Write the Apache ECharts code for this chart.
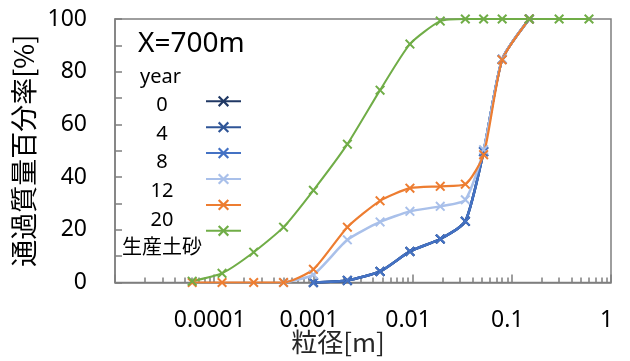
<!DOCTYPE html>
<html>
<head>
<meta charset="utf-8">
<script src="https://cdn.jsdelivr.net/npm/echarts@6/dist/echarts.min.js"></script>
<style>
html,body{margin:0;padding:0;background:#fff;}
#chart{width:630px;height:361px;}
</style>
</head>
<body>
<div id="chart"></div>
<script>
// ---- data ----
const sizes = [0.00006, 0.00012, 0.00025, 0.0005, 0.001, 0.0022, 0.0047, 0.0094, 0.019, 0.034, 0.052, 0.08, 0.15, 0.3, 0.6];
const year0  = [null, null, null, null, 0, 0.8, 4.2, 11.8, 16.5, 23.2, 49.7, 84.7, 100, null, null];
const year4  = [null, null, null, null, 0, 0.8, 4.2, 11.8, 16.5, 23.2, 49.7, 84.7, 100, null, null];
const year8  = [null, null, null, null, 0, 0.8, 4.2, 11.8, 16.5, 23.2, 49.7, 84.7, 100, null, null];
const year12 = [null, null, null, 0, 3, 16.2, 23, 27, 28.9, 31.4, 50.4, 84.8, 100, null, null];
const year20 = [0, 0, 0, 0, 5, 21, 31, 35.8, 36.5, 37.3, 48.5, 84.5, 100, null, null];
const production = [0.5, 3.5, 11.5, 21, 35, 52.5, 73, 90.5, 99.2, 100, 100, 100, 100, 100, 100];
const seriesNames = ['0', '4', '8', '12', '20', '生産土砂'];
const xTickLabels = ['0.0001', '0.001', '0.01', '0.1', '1'];
const chartLabel = 'X=700m';
const legendTitle = 'year';
const xName = '粒径[m]';
const yName = '通過質量百分率[%]';

// ---- styling ----
const colors = ['#203864', '#2F5597', '#4472C4', '#A9C0EA', '#ED7D31', '#70AD47'];
const widths = [2.5, 2.5, 2.5, 2.5, 2.2, 2];
const allValues = [year0, year4, year8, year12, year20, production];
const gray = '#7f7f7f';
const latin = 'Noto Sans';
const cjk = 'Noto Sans CJK JP';
const xMark = 'path://M0,1.4L1.4,0L5,3.6L8.6,0L10,1.4L6.4,5L10,8.6L8.6,10L5,6.4L1.4,10L0,8.6L3.6,5Z';

const minorTicks = [];
for (let e = -5; e < 0; e++) {
  for (let k = 2; k <= 9; k++) minorTicks.push(k * Math.pow(10, e));
}

const series = allValues.map((vals, i) => ({
  name: seriesNames[i],
  type: 'line',
  xAxisIndex: 0,
  data: sizes.map((s, j) => vals[j] == null ? null : [s, vals[j]]).filter(d => d),
  smooth: 0.2,
  symbol: xMark,
  symbolSize: 10,
  showAllSymbol: true,
  itemStyle: { color: colors[i] },
  lineStyle: { color: colors[i], width: widths[i] },
  emphasis: { disabled: true },
  animation: false
}));

// legend layout (icons drawn by the legend, labels as centred text beside them)
const iconH = 14, rowStep = 28.7, firstRowY = 102.7;
const legendTop = firstRowY - iconH / 2;
const legendLabels = seriesNames.map((n, i) => ({
  type: 'text', x: 162, y: firstRowY + 2.5 + i * rowStep,
  style: { text: n, align: 'center', verticalAlign: 'middle', textAlign: 'center', textVerticalAlign: 'middle',
           fontFamily: latin + ',' + cjk, fontSize: 20, fill: '#000' }
}));

const chart = echarts.init(document.getElementById('chart'), null, { renderer: 'canvas' });
chart.setOption({
  animation: false,
  grid: { left: 115, right: 19, top: 19, bottom: 78.5, show: true, borderColor: gray, borderWidth: 1.5, containLabel: false, outerBoundsMode: 'none' },
  xAxis: [{
    type: 'log', logBase: 10, min: 0.00001, max: 1, position: 'bottom',
    name: xName, nameLocation: 'middle', nameGap: 47, nameMoveOverlap: false,
    nameTextStyle: { fontFamily: cjk, fontSize: 26, color: '#262626', padding: [0, 50, 0, 0] },
    axisLine: { lineStyle: { color: gray, width: 1.5 } },
    axisTick: { inside: true, length: 8, lineStyle: { color: gray, width: 1.5 } },
    axisLabel: {
      margin: 26, fontFamily: latin, fontSize: 23, color: '#000', padding: [0, 9, 0, 0],
      formatter: v => { const e = Math.round(Math.log10(v)); return xTickLabels[e + 4] || ''; }
    },
    splitLine: { show: false }
  }, {
    type: 'log', logBase: 10, min: 0.00001, max: 1, position: 'bottom', offset: 0,
    axisLine: { show: false },
    axisTick: { inside: true, length: 5, customValues: minorTicks, lineStyle: { color: gray, width: 1.5 } },
    axisLabel: { show: false },
    splitLine: { show: false }
  }],
  yAxis: {
    type: 'value', min: 0, max: 100, interval: 20,
    name: yName, nameLocation: 'middle', nameGap: 78, nameMoveOverlap: false,
    nameTextStyle: { fontFamily: cjk, fontSize: 27, color: '#000' },
    axisLine: { show: true, lineStyle: { color: gray, width: 1.5 } },
    axisTick: { show: true, inside: true, length: 7, lineStyle: { color: gray, width: 1.5 } },
    minorTick: { show: true, splitNumber: 2, length: 7, lineStyle: { color: gray, width: 1.5 } },
    axisLabel: { margin: 28, fontFamily: latin, fontSize: 23, color: '#000' },
    splitLine: { show: false }
  },
  legend: {
    data: seriesNames,
    orient: 'vertical', left: 205, top: legendTop, align: 'left', padding: 0,
    itemWidth: 35, itemHeight: iconH, itemGap: rowStep - iconH,
    selectedMode: false,
    formatter: () => '',
    textStyle: { fontSize: 10, lineHeight: 10 }
  },
  graphic: [
    { type: 'text', left: 138, top: 30, style: { text: chartLabel, fontFamily: latin, fontSize: 28, fill: '#000' } },
    { type: 'text', left: 140, top: 67, style: { text: legendTitle, fontFamily: latin, fontSize: 20, fill: '#000' } }
  ].concat(legendLabels),
  series: series
});
</script>
</body>
</html>
